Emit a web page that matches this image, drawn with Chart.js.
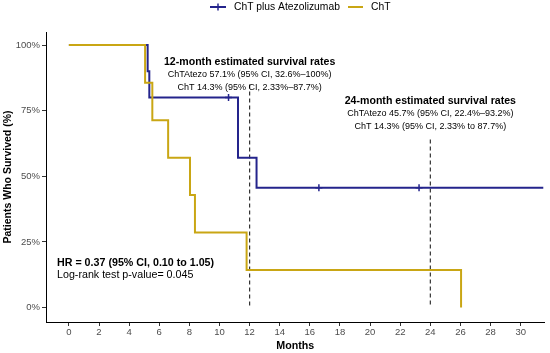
<!DOCTYPE html>
<html>
<head>
<meta charset="utf-8">
<script src="https://cdn.jsdelivr.net/npm/chart.js@4.4.0/dist/chart.umd.min.js"></script>
<style>
  html, body { margin: 0; padding: 0; background: #fff; }
  #wrap { width: 550px; height: 353px; }
</style>
</head>
<body>
<div id="wrap"><canvas id="c" width="550" height="353"></canvas></div>
<script>
// ---- data ----
const chtTimes   = [0, 5.06, 5.54, 6.59, 8.04, 8.37, 11.8, 26.04];
const chtSurv    = [100, 85.7, 71.4, 57.1, 42.9, 28.6, 14.3, 0];
const atezoTimes = [0, 5.23, 5.34, 11.23, 12.46, 31.5];
const atezoSurv  = [100, 90, 80, 57.1, 45.7, 45.7];
const censorTimes = [10.6, 16.6, 23.25];
const censorSurv  = [80, 45.7, 45.7];
const landmarkMonths = [12, 24];
const landmarkTops   = [85, 64];
const xTicks = [0, 2, 4, 6, 8, 10, 12, 14, 16, 18, 20, 22, 24, 26, 28, 30];
const yTicks = [0, 25, 50, 75, 100];
const seriesNames = ['ChT plus Atezolizumab', 'ChT'];
const block12 = ['12-month estimated survival rates',
                 'ChTAtezo 57.1% (95% CI, 32.6%\u2013100%)',
                 'ChT 14.3% (95% CI, 2.33%\u201387.7%)'];
const block24 = ['24-month estimated survival rates',
                 'ChTAtezo 45.7% (95% CI, 22.4%\u201393.2%)',
                 'ChT 14.3% (95% CI, 2.33% to 87.7%)'];
const hrLines = ['HR = 0.37 (95% CI, 0.10 to 1.05)', 'Log-rank test p-value= 0.045'];

// ---- styling ----
const NAVY = '#24248C';
const GOLD = '#C9A614';
const FONT = '"Liberation Sans", Arial, Helvetica, sans-serif';

const toPts = (xs, ys) => xs.map((x, i) => ({x: x, y: ys[i]}));

const datasets = [
  {
    label: seriesNames[1],
    data: toPts(chtTimes, chtSurv),
    borderColor: GOLD, borderWidth: 2, stepped: 'before',
    pointRadius: 0, fill: false, order: 2
  },
  {
    label: seriesNames[0],
    data: toPts(atezoTimes, atezoSurv),
    borderColor: NAVY, borderWidth: 2, stepped: 'before',
    pointRadius: 0, fill: false, order: 3
  },
  {
    label: 'censor',
    data: toPts(censorTimes, censorSurv),
    showLine: false, pointStyle: 'cross', pointRadius: 3.5,
    pointBorderColor: NAVY, pointBorderWidth: 1.5, order: 1
  }
];
landmarkMonths.forEach((m, i) => {
  datasets.push({
    label: 'landmark' + m,
    data: [{x: m, y: landmarkTops[i]}, {x: m, y: 0}],
    borderColor: '#333', borderWidth: 1.2, borderDash: [4, 3],
    pointRadius: 0, fill: false, order: 4
  });
});

const annotPlugin = {
  id: 'annot',
  afterDraw(chart) {
    const ctx = chart.ctx;
    const xs = chart.scales.x;
    ctx.save();
    ctx.fillStyle = '#000';
    ctx.textBaseline = 'alphabetic';
    // landmark blocks, centred on the dashed lines
    const drawBlock = (lines, cx, base) => {
      ctx.textAlign = 'center';
      ctx.font = 'bold 10.6px ' + FONT;
      ctx.fillText(lines[0], cx, base);
      ctx.font = '9px ' + FONT;
      ctx.fillText(lines[1], cx, base + 12);
      ctx.fillText(lines[2], cx, base + 25);
    };
    drawBlock(block12, xs.getPixelForValue(landmarkMonths[0]), 65);
    drawBlock(block24, xs.getPixelForValue(landmarkMonths[1]), 104);
    // HR text
    ctx.textAlign = 'left';
    ctx.font = 'bold 10.7px ' + FONT;
    ctx.fillText(hrLines[0], 57, 266);
    ctx.font = '10.7px ' + FONT;
    ctx.fillText(hrLines[1], 57, 278);
    // legend
    ctx.lineWidth = 2;
    ctx.strokeStyle = NAVY;
    ctx.beginPath(); ctx.moveTo(210, 7); ctx.lineTo(226, 7); ctx.stroke();
    ctx.lineWidth = 1.5;
    ctx.beginPath(); ctx.moveTo(218, 3.5); ctx.lineTo(218, 10.5); ctx.stroke();
    ctx.lineWidth = 2;
    ctx.strokeStyle = GOLD;
    ctx.beginPath(); ctx.moveTo(348, 7); ctx.lineTo(363, 7); ctx.stroke();
    ctx.font = '10.3px ' + FONT;
    ctx.textBaseline = 'middle';
    ctx.fillText(seriesNames[0], 234, 7.5);
    ctx.fillText(seriesNames[1], 371, 7.5);
    ctx.restore();
  }
};

new Chart(document.getElementById('c'), {
  type: 'line',
  data: { datasets: datasets },
  options: {
    responsive: false,
    animation: false,
    devicePixelRatio: 1,
    layout: { padding: { top: 32, right: 2, left: 0, bottom: 0 } },
    plugins: { legend: { display: false }, tooltip: { enabled: false } },
    scales: {
      x: {
        type: 'linear', min: -1.52, max: 31.58,
        afterFit(s) { s.height = 31; },
        afterBuildTicks(s) { s.ticks = xTicks.map(v => ({value: v})); },
        grid: { display: true, drawOnChartArea: false, drawTicks: true, tickLength: 4, color: '#333' },
        border: { display: true, color: '#000', width: 1 },
        ticks: { color: '#4D4D4D', font: { family: FONT, size: 9.5 }, padding: 1, maxRotation: 0, autoSkip: false },
        title: { display: true, text: 'Months', color: '#000', font: { family: FONT, size: 10.7, weight: 'bold' }, padding: { top: 0, bottom: 1 } }
      },
      y: {
        type: 'linear', min: -5.5, max: 105,
        afterFit(s) { s.width = 46; },
        afterBuildTicks(s) { s.ticks = yTicks.map(v => ({value: v})); },
        grid: { display: true, drawOnChartArea: false, drawTicks: true, tickLength: 4, color: '#333' },
        border: { display: true, color: '#000', width: 1 },
        ticks: { color: '#4D4D4D', font: { family: FONT, size: 9.5 }, padding: 2, callback: v => v + '%' },
        title: { display: true, text: 'Patients Who Survived (%)', color: '#000', font: { family: FONT, size: 10.5, weight: 'bold' }, padding: { top: 2, bottom: 0 } }
      }
    }
  },
  plugins: [annotPlugin]
});
</script>
</body>
</html>
